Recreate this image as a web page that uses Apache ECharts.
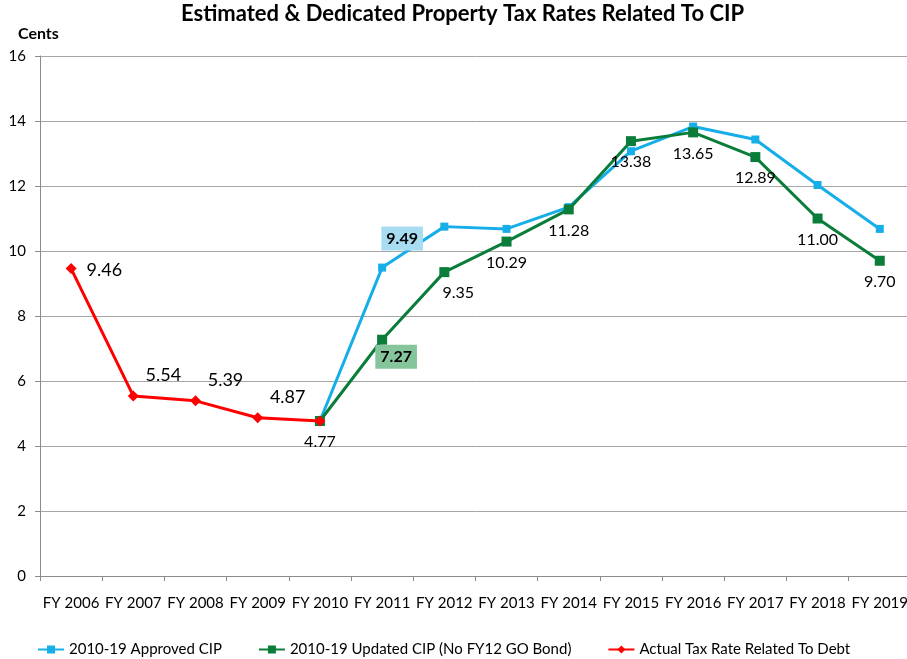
<!DOCTYPE html>
<html>
<head>
<meta charset="utf-8">
<script src="https://cdn.jsdelivr.net/npm/echarts@6/dist/echarts.min.js"></script>
<style>
  html, body { margin: 0; padding: 0; background: #fff; overflow: hidden; }
  /* the plot area runs a few pixels past the right edge in the original */
  #main { width: 911px; height: 659px; }
</style>
</head>
<body>
<div id="main"></div>
<script>
  // data
  var categories = ['FY 2006', 'FY 2007', 'FY 2008', 'FY 2009', 'FY 2010', 'FY 2011', 'FY 2012',
                    'FY 2013', 'FY 2014', 'FY 2015', 'FY 2016', 'FY 2017', 'FY 2018', 'FY 2019'];
  var approvedCIP = [null, null, null, null, 4.77, 9.49, 10.75, 10.68, 11.35, 13.07, 13.83, 13.43, 12.03, 10.68];
  var updatedCIP  = [null, null, null, null, 4.77, 7.27, 9.35, 10.29, 11.28, 13.38, 13.65, 12.89, 11.00, 9.70];
  var actualRate  = [9.46, 5.54, 5.39, 4.87, 4.77, null, null, null, null, null, null, null, null, null];
  var yTicks = [0, 2, 4, 6, 8, 10, 12, 14, 16];

  var FONT = 'Lato';
  var BLUE = '#16aee8';
  var GREEN = '#0b7d3a';
  var RED = '#ff0000';

  var chart = echarts.init(document.getElementById('main'));

  // approved CIP: only the FY 2011 point carries a label
  var approvedData = approvedCIP.map(function (v, i) {
    if (v === null) return null;
    if (categories[i] === 'FY 2011') {
      return {
        value: v,
        label: {
          show: true, position: 'top', distance: 13, offset: [20, 0],
          fontFamily: FONT, fontSize: 16, fontWeight: 'bold', color: '#000',
          backgroundColor: '#a7dcf3', padding: [4, 5],
          formatter: function (p) { return p.value.toFixed(2); }
        }
      };
    }
    return v;
  });

  var updatedData = updatedCIP.map(function (v, i) {
    if (v === null) return null;
    var item = { value: v, label: { show: true, position: 'bottom', distance: 8 } };
    if (categories[i] === 'FY 2011') {
      item.label = {
        show: true, position: 'bottom', distance: 0, offset: [14, 0],
        fontWeight: 'bold', backgroundColor: '#86c59b', padding: [4, 5]
      };
    } else if (categories[i] === 'FY 2012') {
      item.label.offset = [14, 0];
    }
    return item;
  });

  var actualData = actualRate.map(function (v, i) {
    if (v === null) return null;
    if (i === 0) return { value: v, label: { show: true, position: 'right', distance: 10, offset: [0, 2] } };
    if (categories[i] === 'FY 2010') return { value: v, label: { show: false } };
    return { value: v, label: { show: true, position: 'top', distance: 6, offset: [30, 0] } };
  });

  var option = {
    backgroundColor: '#fff',
    animation: false,
    graphic: [
      { type: 'text', left: 181, top: 3,
        style: { text: 'Estimated & Dedicated Property Tax Rates Related To CIP',
                 font: 'bold 22px ' + FONT, fill: '#000' } },
      { type: 'text', left: 18, top: 26,
        style: { text: 'Cents', font: 'bold 16px ' + FONT, fill: '#000' } }
    ],
    grid: { left: 40, right: 0, top: 56, bottom: 83 },
    legend: {
      top: 642,
      left: 37,
      padding: 0,
      itemWidth: 26,
      itemHeight: 10,
      itemGap: 36,
      textStyle: { fontFamily: FONT, fontSize: 15, color: '#000' },
      data: ['2010-19 Approved CIP', '2010-19 Updated CIP (No FY12 GO Bond)', 'Actual Tax Rate Related To Debt']
    },
    xAxis: {
      type: 'category',
      data: categories,
      boundaryGap: true,
      axisLine: { lineStyle: { color: '#8c8c8c' } },
      axisTick: { show: true, length: 5, lineStyle: { color: '#8c8c8c' } },
      axisLabel: { fontFamily: FONT, fontSize: 15, color: '#000', margin: 20, interval: 0 }
    },
    yAxis: {
      type: 'value',
      min: yTicks[0],
      max: yTicks[yTicks.length - 1],
      interval: 2,
      axisLine: { show: true, lineStyle: { color: '#8c8c8c' } },
      axisTick: { show: true, length: 5, lineStyle: { color: '#8c8c8c' } },
      axisLabel: { fontFamily: FONT, fontSize: 15, color: '#000', margin: 14 },
      splitLine: { lineStyle: { color: '#a6a6a6', width: 1 } }
    },
    series: [
      {
        name: '2010-19 Approved CIP',
        type: 'line',
        data: approvedData,
        connectNulls: false,
        symbol: 'rect',
        symbolSize: 8,
        itemStyle: { color: BLUE },
        lineStyle: { color: BLUE, width: 3 },
        label: { show: false },
        z: 2
      },
      {
        name: '2010-19 Updated CIP (No FY12 GO Bond)',
        type: 'line',
        data: updatedData,
        symbol: 'rect',
        symbolSize: 10,
        itemStyle: { color: GREEN },
        lineStyle: { color: GREEN, width: 3 },
        label: {
          fontFamily: FONT, fontSize: 16, color: '#000',
          formatter: function (p) { return p.value.toFixed(2); }
        },
        z: 3
      },
      {
        name: 'Actual Tax Rate Related To Debt',
        type: 'line',
        data: actualData,
        symbol: 'diamond',
        symbolSize: 11,
        itemStyle: { color: RED },
        lineStyle: { color: RED, width: 3 },
        label: {
          fontFamily: FONT, fontSize: 18, color: '#000',
          formatter: function (p) { return p.value.toFixed(2); }
        },
        z: 4
      }
    ]
  };

  chart.setOption(option);
</script>
</body>
</html>
